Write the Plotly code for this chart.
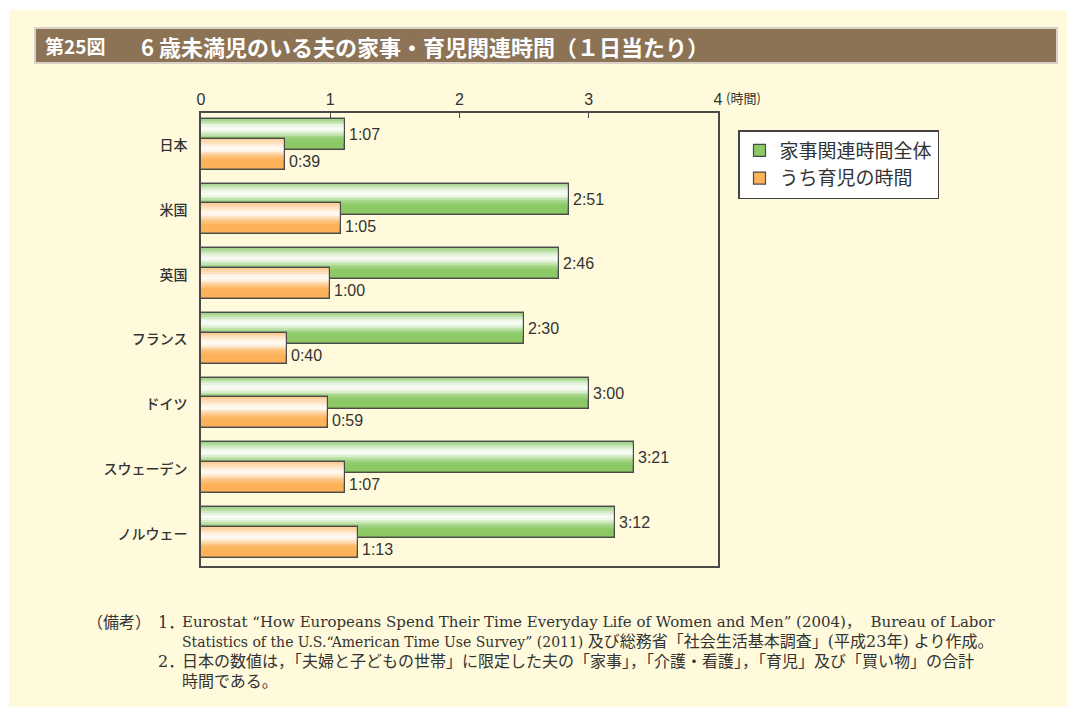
import plotly.graph_objects as go

# ---------------- data ----------------
countries = ["日本", "米国", "英国", "フランス", "ドイツ", "スウェーデン", "ノルウェー"]
housework_min = [67, 171, 166, 150, 180, 201, 192]   # 家事関連時間全体 (minutes)
childcare_min = [39, 65, 60, 40, 59, 67, 73]         # うち育児の時間 (minutes)
x_ticks = [0, 1, 2, 3, 4]
series_names = ["家事関連時間全体", "うち育児の時間"]

def hm(m):
    return f"{m // 60}:{m % 60:02d}"

housework_h = [m / 60 for m in housework_min]
childcare_h = [m / 60 for m in childcare_min]

# ---------------- layout geometry ----------------
W, H = 1067, 707
L, R, T, B = 201, 718, 113, 566
PW, PH = R - L, B - T

def px(x):
    return (x - L) / PW

def py(y):
    return (B - y) / PH

CJK = "Noto Sans CJK JP"
LAT = "Liberation Sans, Arial, sans-serif"
TXT = "#333333"
EDGE = "#4a4a4a"

fig = go.Figure()

BW = 0.48
# gradient bands (fraction from top of bar, colour) -- purely styling
green_bands = [(0.00, "#a6d58c"), (0.06, "#bde0a8"), (0.12, "#d3ebc5"), (0.18, "#e6f3de"),
               (0.24, "#f3f9ef"), (0.30, "#f8fcf5"), (0.36, "#eef7e8"), (0.42, "#d9eecc"),
               (0.48, "#c0e2ab"), (0.54, "#a8d78d"), (0.60, "#98cf78"), (0.66, "#8ecb6b")]
orange_bands = [(0.00, "#fdcf98"), (0.06, "#fdd9ad"), (0.12, "#fee3c3"), (0.18, "#feedd7"),
                (0.24, "#fff5e9"), (0.30, "#fffaf3"), (0.36, "#fff3e3"), (0.42, "#fee4c5"),
                (0.48, "#fed3a2"), (0.54, "#fdc482"), (0.60, "#fdbb6c"), (0.66, "#fdb45e")]

series = [
    dict(name=series_names[0], x=housework_h, off=-0.41, base="#8cc864", bands=green_bands),
    dict(name=series_names[1], x=childcare_h, off=-0.105, base="#fdb25a", bands=orange_bands),
]

for s in series:
    fig.add_trace(go.Bar(
        y=countries, x=s["x"], orientation="h", name=s["name"],
        offset=s["off"], width=BW,
        marker=dict(color=s["base"], line=dict(color=EDGE, width=1.2)),
        hoverinfo="skip", showlegend=True,
    ))
    bands = s["bands"]
    for k, (f0, col) in enumerate(bands):
        f1 = bands[k + 1][0] if k + 1 < len(bands) else 0.72
        fig.add_trace(go.Bar(
            y=countries, x=s["x"], orientation="h",
            offset=s["off"] + f0 * BW, width=(f1 - f0 + 0.012) * BW,
            marker=dict(color=col, line=dict(width=0)),
            hoverinfo="skip", showlegend=False,
        ))
    fig.add_trace(go.Bar(
        y=countries, x=s["x"], orientation="h",
        offset=s["off"], width=BW,
        marker=dict(color="rgba(0,0,0,0)", line=dict(color=EDGE, width=1.2)),
        hoverinfo="skip", showlegend=False,
    ))

annotations = []
for c, v, m in zip(countries, housework_h, housework_min):
    annotations.append(dict(x=v, y=c, xref="x", yref="y", text=hm(m), showarrow=False,
                            xanchor="left", yanchor="middle", xshift=2, yshift=11,
                            font=dict(family=LAT, size=16, color=TXT)))
for c, v, m in zip(countries, childcare_h, childcare_min):
    annotations.append(dict(x=v, y=c, xref="x", yref="y", text=hm(m), showarrow=False,
                            xanchor="left", yanchor="middle", xshift=2, yshift=-16,
                            font=dict(family=LAT, size=16, color=TXT)))

# axis unit
annotations.append(dict(x=x_ticks[-1], y=1, xref="x", yref="paper", text="(時間)",
                        showarrow=False, xanchor="left", yanchor="middle",
                        xshift=6, yshift=16, font=dict(family=CJK, size=13, color=TXT)))

# title
annotations.append(dict(x=px(43), y=py(46), xref="paper", yref="paper", text="<b>第25図</b>",
                        showarrow=False, xanchor="left", yanchor="middle",
                        font=dict(family=CJK, size=19, color="white")))
annotations.append(dict(x=px(139), y=py(46), xref="paper", yref="paper",
                        text="<b>6 歳未満児のいる夫の家事・育児関連時間（１日当たり）</b>",
                        showarrow=False, xanchor="left", yanchor="middle",
                        font=dict(family=CJK, size=22, color="white")))

# notes
NOTE_FONT = dict(family="DejaVu Serif, " + CJK, size=14, color=TXT)

def cj(t):
    return f'<span style="font-size:16px">{t}</span>'

notes = [
    (85, 622, cj("（備考）"), 14),
    (156, 622, cj("1．"), 14),
    (180, 622, "Eurostat “How Europeans Spend Their Time Everyday Life of Women and Men” (2004)，  Bureau of Labor", 15),
    (180, 641, "Statistics of the U.S.“American Time Use Survey” (2011) " + cj("及び総務省「社会生活基本調査」(平成23年) より作成。"), 14),
    (156, 661, cj("2．"), 14),
    (180, 661, cj("日本の数値は，「夫婦と子どもの世帯」に限定した夫の「家事」，「介護・看護」，「育児」及び「買い物」の合計"), 14),
    (180, 681, cj("時間である。"), 14),
]
for x, y, t, sz in notes:
    annotations.append(dict(x=px(x), y=py(y), xref="paper", yref="paper", text=t,
                            showarrow=False, xanchor="left", yanchor="middle",
                            font=dict(NOTE_FONT, size=sz)))

shapes = [
    dict(type="rect", xref="paper", yref="paper", x0=px(9), x1=px(1067), y0=py(10), y1=py(707),
         fillcolor="#fffadc", line=dict(width=0), layer="below"),
    dict(type="rect", xref="paper", yref="paper", x0=px(35), x1=px(1057), y0=py(28), y1=py(63),
         fillcolor="#8c7355", line=dict(color="#d9d1c9", width=2), layer="below"),
]

fig.update_layout(
    width=W, height=H,
    margin=dict(l=L, r=W - R, t=T, b=H - B, pad=0),
    paper_bgcolor="white", plot_bgcolor="white",
    barmode="overlay", bargap=0,
    showlegend=True,
    legend=dict(x=px(738), y=py(130), xanchor="left", yanchor="top",
                bgcolor="white", bordercolor="#444444", borderwidth=1.5,
                font=dict(family=CJK, size=19, color=TXT), traceorder="normal",
                itemwidth=30, tracegroupgap=0),
    annotations=annotations,
    shapes=shapes,
    xaxis=dict(side="top", range=[0, 4], tickvals=x_ticks, ticktext=[str(t) for t in x_ticks],
               ticks="inside", ticklen=5, tickcolor=EDGE, tickwidth=1,
               showgrid=False, zeroline=False, showline=True, mirror=True,
               linecolor=EDGE, linewidth=1.5,
               tickfont=dict(family=LAT, size=16, color=TXT, weight=500)),
    yaxis=dict(type="category", categoryorder="array", categoryarray=countries,
               range=[len(countries) - 0.5, -0.5], ticks="", showgrid=False, zeroline=False,
               showline=True, mirror=True, linecolor=EDGE, linewidth=1.5,
               ticklabelstandoff=9,
               tickfont=dict(family=CJK, size=14, color=TXT, weight=500)),
)

fig.write_html("out.html", post_script="document.body.style.margin='0';",
               config={"displayModeBar": False})
